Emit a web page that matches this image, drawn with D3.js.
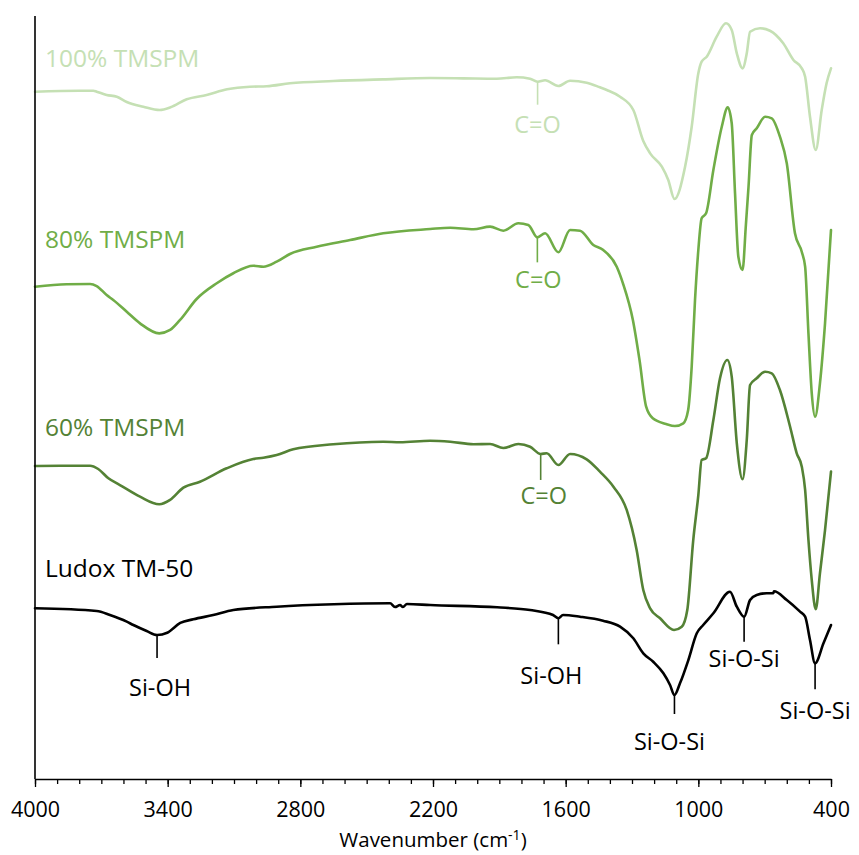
<!DOCTYPE html>
<html>
<head>
<meta charset="utf-8">
<script src="https://cdn.jsdelivr.net/npm/d3@7"></script>
<style>
  html, body { margin: 0; padding: 0; background: #fff; }
  svg { display: block; font-family: "Segoe UI", "Open Sans", sans-serif; }
</style>
</head>
<body>
<svg id="chart" width="859" height="855"></svg>
<script>
// FTIR spectra, stacked with vertical offsets (arbitrary transmittance units)
// Each entry: [wavenumber (cm-1), offset transmittance]
const tmspm100 = [
  [4000,90.08],[3800,90.20],[3736,90.21],[3721,90.08],[3676,89.65],[3630,89.42],[3585,88.73],
  [3510,88.11],[3436,87.68],[3387,88.03],
  [3314,89.08],[3224,89.65],[3131,90.39],[3028,90.73],[2952,90.79],[2847,91.18],[2651,91.48],
  [2426,91.70],[2213,91.87],[2064,91.83],[1912,91.78],[1822,91.97],[1761,91.78],[1727,91.39],
  [1693,91.57],[1633,90.83],[1580,91.52],[1505,91.26],[1445,90.65],[1414,90.30],[1354,89.42],
  [1294,87.68],[1249,83.62],[1218,82.00],[1165,80.25],[1136,78.51],[1108,76.02],[1060,80.25],
  [1030,85.49],[1000,92.49],[985,94.01],[962,94.67],[917,97.29],[875,99.04],[849,98.17],
  [826,95.11],[800,93.14],[781,95.11],[766,97.94],[721,98.39],[676,98.07],[616,96.42],
  [570,94.23],[532,93.14],[517,92.04],[495,86.80],[469,82.44],[442,87.68],[420,91.18],[400,93.14]
];
const tmspm80 = [
  [4000,64.52],[3857,64.84],[3751,64.88],[3721,64.61],[3676,63.43],[3646,62.78],[3585,61.24],
  [3525,59.72],[3438,58.41],[3389,58.85],[3344,60.16],[3269,62.91],[3178,64.97],[3103,66.28],
  [3013,67.27],[2967,67.14],[2907,67.80],[2847,68.81],[2726,69.76],[2575,70.64],[2425,71.52],
  [2213,72.08],[2122,72.25],[2017,72.05],[1942,72.39],[1882,71.86],[1814,72.83],[1769,72.61],
  [1728,70.99],[1693,71.52],[1633,69.03],[1580,71.95],[1535,71.86],[1475,69.99],[1430,69.33],
  [1369,67.14],[1341,64.97],[1296,60.16],[1266,54.91],[1236,48.79],[1206,47.27],[1146,46.53],
  [1106,46.26],[1068,46.62],[1046,48.36],[1030,54.04],[1015,62.78],[1000,69.33],[985,73.49],
  [965,74.14],[932,79.82],[894,85.49],[867,88.03],[849,85.94],[834,76.76],[819,68.45],
  [800,66.71],[785,72.60],[773,77.63],[758,84.40],[736,85.28],[698,86.80],[668,86.59],
  [631,84.18],[600,80.69],[563,71.52],[532,69.07],[517,67.14],[502,58.41],[487,50.55],
  [472,47.48],[450,51.86],[427,59.72],[400,71.95]
];
const tmspm60 = [
  [4000,41.02],[3751,41.06],[3714,40.63],[3668,39.41],[3616,38.53],[3525,37.00],[3438,36.00],
  [3389,36.57],[3329,38.18],[3254,38.96],[3133,40.72],[3013,41.94],[2967,42.11],[2907,42.46],
  [2832,43.21],[2651,43.87],[2425,44.21],[2349,44.13],[2213,44.34],[2122,44.21],[2017,43.87],
  [1942,43.91],[1882,43.38],[1814,43.91],[1761,43.55],[1713,42.60],[1686,42.69],[1633,41.15],
  [1580,42.60],[1505,41.90],[1445,40.28],[1384,38.31],[1324,35.26],[1279,30.01],[1249,24.77],
  [1218,22.37],[1173,21.06],[1110,19.53],[1075,19.96],[1050,22.15],[1023,31.32],[1000,37.22],
  [985,41.81],[965,42.03],[932,47.05],[902,52.52],[869,54.91],[849,52.73],[826,44.00],
  [800,39.28],[781,44.43],[766,51.64],[736,52.52],[698,53.38],[668,53.17],[631,50.98],
  [585,46.17],[555,42.69],[532,40.93],[517,37.88],[502,31.32],[487,26.08],[469,22.24],
  [450,26.96],[427,32.63],[400,40.28]
];
const ludox = [
  [4000,22.37],[3721,22.02],[3661,21.49],[3585,20.62],[3555,20.18],[3495,19.40],[3448,18.87],
  [3402,19.17],[3343,20.45],[3284,20.93],[3194,21.49],[3103,22.15],[2907,22.58],[2649,22.90],
  [2394,23.03],[2372,22.54],[2349,22.80],[2336,22.54],[2318,22.94],[2213,22.80],[1910,22.50],
  [1761,22.15],[1657,21.49],[1633,21.06],[1612,21.49],[1535,21.27],[1431,20.75],[1354,19.96],
  [1294,18.44],[1249,16.47],[1204,15.37],[1158,13.85],[1128,12.32],[1108,11.01],[1083,12.54],
  [1045,15.60],[1007,19.10],[978,20.18],[932,21.72],[857,24.55],[826,22.58],[793,21.27],
  [766,23.46],[736,24.12],[691,24.34],[661,24.34],[658,24.60],[600,23.46],[540,21.93],
  [517,21.27],[495,18.22],[472,15.16],[434,17.78],[400,20.18]
];

const seriesNames = ["100% TMSPM", "80% TMSPM", "60% TMSPM", "Ludox TM-50"];
const seriesData = [tmspm100, tmspm80, tmspm60, ludox];
const seriesColors = ["#c5e0b4", "#70ad47", "#548235", "#000000"];

// Band assignments: [series index, wavenumber, label]
const bands = [
  [0, 1727, "C=O"],
  [1, 1728, "C=O"],
  [2, 1713, "C=O"],
  [3, 3448, "Si-OH"],
  [3, 1633, "Si-OH"],
  [3, 1108, "Si-O-Si"],
  [3, 793, "Si-O-Si"],
  [3, 472, "Si-O-Si"]
];
// Leader length, label x shift, label baseline below leader end (px)
const bandLayout = [
  [23, 0, 28], [25, 1, 26], [26, 3, 24],
  [23, 3, 38], [26, -7, 40], [19, -5, 36], [25, 0, 25], [26, 0, 30]
];

const xTicks = [4000, 3400, 2800, 2200, 1600, 1000, 400];
const xMinorTicks = d3.range(4000, 399, -100);

const svg = d3.select("#chart");
const x = d3.scaleLinear().domain([4000, 400]).range([35, 831]);
const y = d3.scaleLinear().domain([0, 100]).range([779, 16]);

// Spectra
const line = d3.line()
  .x(d => x(d[0]))
  .y(d => y(d[1]))
  .curve(d3.curveMonotoneX);

svg.append("g").selectAll("path")
  .data(seriesData)
  .join("path")
  .attr("d", line)
  .attr("fill", "none")
  .attr("stroke", (d, i) => seriesColors[i])
  .attr("stroke-width", 2.6)
  .attr("stroke-linejoin", "round")
  .attr("stroke-linecap", "round");

// Series names, placed above each trace's left end
const nameBaselines = [67, 248, 436, 577];
svg.append("g").selectAll("text")
  .data(seriesNames)
  .join("text")
  .attr("x", 45)
  .attr("y", (d, i) => nameBaselines[i])
  .attr("fill", (d, i) => seriesColors[i])
  .attr("font-size", 24.5)
  .text(d => d);

// Band markers with leader lines
function valueAt(data, wn) {
  for (let i = 0; i < data.length - 1; i++) {
    const a = data[i], b = data[i + 1];
    if (wn <= a[0] && wn >= b[0]) {
      const t = (a[0] - wn) / (a[0] - b[0]);
      return a[1] + t * (b[1] - a[1]);
    }
  }
  return data[data.length - 1][1];
}

const bandG = svg.append("g");
bands.forEach((b, i) => {
  const [si, wn, label] = b;
  const [len, dx, gap] = bandLayout[i];
  const px = x(wn);
  const py = y(valueAt(seriesData[si], wn));
  bandG.append("line")
    .attr("x1", px).attr("x2", px)
    .attr("y1", py).attr("y2", py + len)
    .attr("stroke", seriesColors[si])
    .attr("stroke-width", 1.6);
  bandG.append("text")
    .attr("x", px + dx)
    .attr("y", py + len + gap)
    .attr("text-anchor", "middle")
    .attr("fill", seriesColors[si])
    .attr("font-size", 23.5)
    .text(label);
});

// Axes
const axisG = svg.append("g").attr("transform", `translate(0,${y(0)})`);
axisG.call(d3.axisBottom(x).tickValues(xMinorTicks).tickSize(5).tickFormat(""))
  .call(g => g.select(".domain").remove())
  .call(g => g.selectAll(".tick line").attr("stroke", "#000").attr("stroke-width", 1.3));
const majorG = svg.append("g").attr("transform", `translate(0,${y(0)})`);
majorG.call(d3.axisBottom(x).tickValues(xTicks).tickSize(8).tickSizeOuter(0).tickPadding(15).tickFormat(d3.format("d")))
  .call(g => g.select(".domain").attr("stroke", "#000").attr("stroke-width", 1.6))
  .call(g => g.selectAll(".tick line").attr("stroke", "#000").attr("stroke-width", 1.3))
  .call(g => g.selectAll(".tick text")
    .attr("font-size", 21.5)
    .attr("font-family", "'Segoe UI', 'Open Sans', sans-serif")
    .attr("fill", "#000"));

// Left frame line
svg.append("line")
  .attr("x1", x(4000)).attr("x2", x(4000))
  .attr("y1", y(100)).attr("y2", y(0))
  .attr("stroke", "#000").attr("stroke-width", 1.6);

// Axis title
const title = svg.append("text")
  .attr("x", 433).attr("y", 847)
  .attr("text-anchor", "middle")
  .attr("font-size", 20.5)
  .attr("fill", "#000");
title.append("tspan").text("Wavenumber (cm");
title.append("tspan").attr("dy", -7).attr("font-size", 14).text("-1");
title.append("tspan").attr("dy", 7).text(")");
</script>
</body>
</html>
